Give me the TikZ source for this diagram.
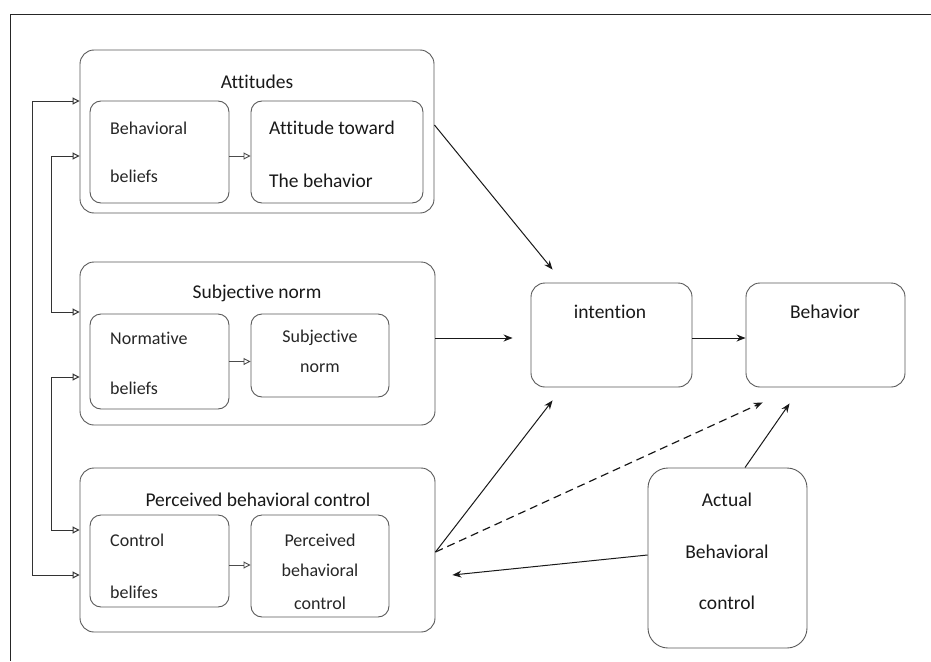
\documentclass[tikz,border=0pt]{standalone}
\usepackage{fontspec}
\setmainfont{Carlito}[Ligatures=NoCommon]
\usetikzlibrary{arrows.meta,calc}
\begin{document}
\begin{tikzpicture}[x=1pt,y=-1pt,
  box/.style={draw=black!65,line width=0.9pt,rounded corners=14pt,minimum width=#1},
  ibox/.style={draw=black!65,line width=0.9pt,rounded corners=11pt},
  big/.style={font=\fontsize{19.5}{22}\selectfont,inner sep=0pt,text=black!90},
  small/.style={font=\fontsize{18}{21}\selectfont,inner sep=0pt,text=black!85},
  mainarr/.style={-{Stealth[length=9pt,width=7pt]},line width=1pt,black!90},
  openarr/.style={-{Triangle[open,length=7pt,width=7pt]},line width=0.9pt,black!70},
  bothopen/.style={{Triangle[open,length=7pt,width=7pt]}-{Triangle[open,length=7pt,width=7pt]},line width=1pt,black!80}
]
\useasboundingbox (0,0) rectangle (931,661);
% frame
\draw[line width=1pt,black!85] (931,15) -- (10,15) -- (10,661);

% Attitudes
\node[box=354pt,minimum height=163pt,inner sep=0pt] (att) at (257,131.5) {};
\node[ibox,minimum width=139pt,minimum height=102pt,inner sep=0pt] (bb) at (159.5,152) {};
\node[ibox,minimum width=172pt,minimum height=102pt,inner sep=0pt] (atb) at (337,152) {};
\node[big] (tatt) at (257,82) {Attitudes};
\node[small,anchor=west] (tbb1) at (110,128) {Behavioral};
\node[small,anchor=west] (tbb2) at (110,176) {beliefs};
\node[big,anchor=west] (tatb1) at (269,128) {Attitude toward};
\node[big,anchor=west] (tatb2) at (269,181) {The behavior};

% Subjective norm
\node[box=355pt,minimum height=163pt,inner sep=0pt] (sn) at (257.5,343.5) {};
\node[ibox,minimum width=139pt,minimum height=95pt,inner sep=0pt] (nb) at (159.5,361.5) {};
\node[ibox,minimum width=138pt,minimum height=83pt,inner sep=0pt] (sni) at (320,355.5) {};
\node[big] (tsn) at (257,293) {Subjective norm};
\node[small,anchor=west] (tnb1) at (110,338) {Normative};
\node[small,anchor=west] (tnb2) at (110,388) {beliefs};
\node[small] (tsni1) at (320,338) {Subjective};
\node[small] (tsni2) at (320,368) {norm};

% Perceived behavioral control
\node[box=355pt,minimum height=164pt,inner sep=0pt] (pbc) at (257.5,550) {};
\node[ibox,minimum width=139pt,minimum height=92pt,inner sep=0pt] (cb) at (159.5,561) {};
\node[ibox,minimum width=138pt,minimum height=102pt,inner sep=0pt] (pbci) at (320,566) {};
\node[big] (tpbc) at (258,500) {Perceived behavioral control};
\node[small,anchor=west] (tcb1) at (110,540) {Control};
\node[small,anchor=west] (tcb2) at (110,592) {belifes};
\node[small] (tp1) at (320,540) {Perceived};
\node[small] (tp2) at (320,570) {behavioral};
\node[small] (tp3) at (320,603) {control};

% right side
\node[box=161pt,minimum height=104pt,inner sep=0pt] (int) at (611.5,335) {};
\node[box=159pt,minimum height=104pt,inner sep=0pt] (beh) at (825.5,335) {};
\node[box=159pt,minimum height=180pt,inner sep=0pt,rounded corners=20pt] (abc) at (727.5,558) {};
\node[big] (tint) at (610,312) {intention};
\node[big] (tbeh) at (825,312) {Behavior};
\node[big] (ta1) at (727,500) {Actual};
\node[big] (ta2) at (727,552) {Behavioral};
\node[big] (ta3) at (727,603) {control};

% inner arrows
\draw[openarr] ($(bb.east)+(0,4)$) -- ($(bb.east -| atb.west)+(0,4)$);
\draw[openarr] (nb.east) -- (nb.east -| sni.west);
\draw[openarr] ($(cb.east)+(0,4)$) -- ($(cb.east -| pbci.west)+(0,4)$);

% left brackets
\draw[bothopen] ($(att.west)+(0,-30.5)$) -- ++(-47,0) |- ($(pbc.west)+(0,25)$);
\draw[bothopen] ($(att.west)+(0,24.5)$) -- ++(-28,0) |- ($(sn.west)+(0,-31.5)$);
\draw[bothopen] ($(sn.west)+(0,33.5)$) -- ++(-28,0) |- ($(pbc.west)+(0,-20)$);

% main arrows
\draw[mainarr] ($(att.east)+(0,-6.5)$) -- ($(int.north west)+(22,-13)$);
\draw[mainarr] ($(sn.east)+(0,-5.5)$) -- ($(int.west)+(-18,3)$);
\draw[mainarr] ($(int.east)+(0,3)$) -- ($(beh.west)+(0,3)$);
\draw[mainarr] ($(pbc.east)+(0,2)$) -- ($(int.south west)+(22,13)$);
\draw[mainarr,dash pattern=on 8pt off 5pt,line width=1.2pt] ($(pbc.east)+(0,2)$) -- ($(beh.south west)+(17,15)$);
\draw[mainarr] ($(abc.north)+(17.5,0)$) -- ($(beh.south west)+(44,16)$);
\draw[mainarr] ($(abc.west)+(0,-3)$) -- ($(pbc.east)+(17,25)$);
\end{tikzpicture}
\end{document}
